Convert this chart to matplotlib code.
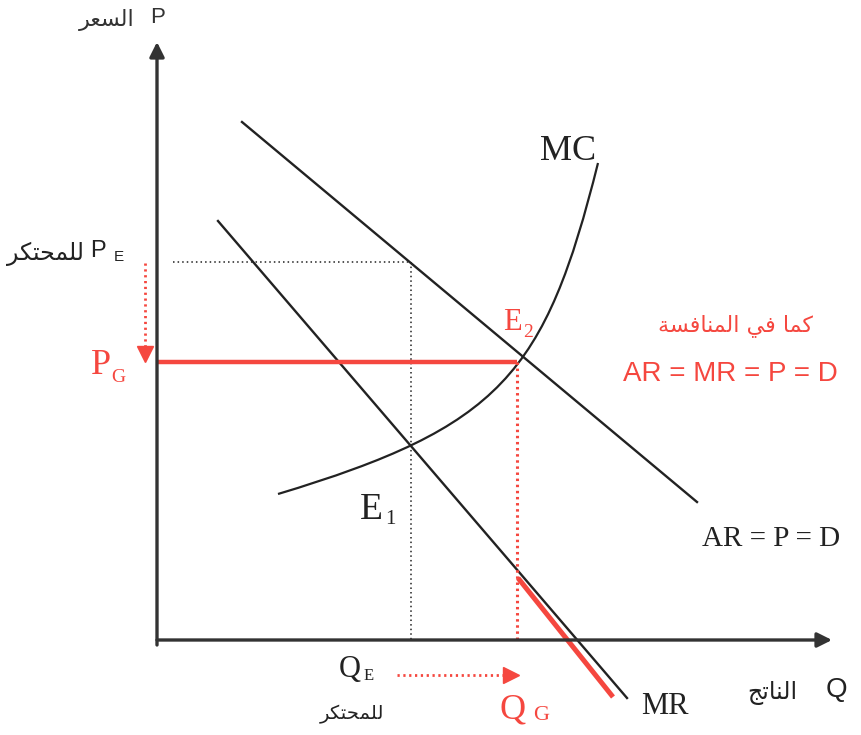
import matplotlib
matplotlib.use("Agg")
import matplotlib.pyplot as plt
from matplotlib.path import Path
from matplotlib.patches import PathPatch

# Output on the horizontal axis, price on the vertical axis
ar_q = [85, 540]
ar_p = [518, 138]
mr_q = [61, 470]
mr_p = [419, -58]
# MC drawn as a cubic Bezier through these control points
mc_q = [121, 343, 388, 441]
mc_p = [146, 213, 265, 477]

q_mono, p_mono = 254, 378       # monopoly output / price (E1)
q_comp, p_comp = 360, 278       # competitive output / price (E2)
mr_red_q = [361, 456]           # highlighted stretch of MR beyond Q_G
mr_red_p = [62, -57]

RED = "#f5473f"
INK = "#222222"
SANS = "Liberation Sans"
SERIF = "Liberation Serif"
ARAB = "DejaVu Sans"

# Arabic presentation forms: isolated, final, initial, medial
FORMS = {
    "ا": ("\uFE8D", "\uFE8E", None, None),
    "ل": ("\uFEDD", "\uFEDE", "\uFEDF", "\uFEE0"),
    "س": ("\uFEB1", "\uFEB2", "\uFEB3", "\uFEB4"),
    "ع": ("\uFEC9", "\uFECA", "\uFECB", "\uFECC"),
    "ر": ("\uFEAD", "\uFEAE", None, None),
    "م": ("\uFEE1", "\uFEE2", "\uFEE3", "\uFEE4"),
    "ح": ("\uFEA1", "\uFEA2", "\uFEA3", "\uFEA4"),
    "ت": ("\uFE95", "\uFE96", "\uFE97", "\uFE98"),
    "ك": ("\uFED9", "\uFEDA", "\uFEDB", "\uFEDC"),
    "ن": ("\uFEE5", "\uFEE6", "\uFEE7", "\uFEE8"),
    "ج": ("\uFE9D", "\uFE9E", "\uFE9F", "\uFEA0"),
    "ف": ("\uFED1", "\uFED2", "\uFED3", "\uFED4"),
    "ي": ("\uFEF1", "\uFEF2", "\uFEF3", "\uFEF4"),
    "ة": ("\uFE93", "\uFE94", None, None),
}


def shape(text):
    """Join Arabic letters and lay them out left to right."""
    out = []
    for i, ch in enumerate(text):
        if ch not in FORMS:
            out.append(ch)
            continue
        prev = text[i - 1] if i > 0 else ""
        nxt = text[i + 1] if i + 1 < len(text) else ""
        join_prev = prev in FORMS and FORMS[prev][2] is not None
        join_next = FORMS[ch][2] is not None and nxt in FORMS
        iso, fin, ini, med = FORMS[ch]
        if join_prev and join_next:
            out.append(med)
        elif join_prev:
            out.append(fin)
        elif join_next:
            out.append(ini)
        else:
            out.append(iso)
    return "".join(reversed(out))


fig = plt.figure(figsize=(8.61, 7.35), dpi=100)
ax = fig.add_axes([0, 0, 1, 1])
ax.set_xlim(-157, 704)
ax.set_ylim(-95, 640)
ax.axis("off")

# axes with arrow heads
ax.annotate("", xy=(0, 598), xytext=(0, -5),
            arrowprops=dict(arrowstyle="-|>", lw=2.4, color="#333333",
                            mutation_scale=22, shrinkA=0, shrinkB=0))
ax.annotate("", xy=(675, 0), xytext=(0, 0),
            arrowprops=dict(arrowstyle="-|>", lw=2.4, color="#333333",
                            mutation_scale=22, shrinkA=0, shrinkB=0))

# demand / marginal revenue / marginal cost
ax.plot(ar_q, ar_p, color=INK, lw=1.7)
ax.plot(mr_q, mr_p, color=INK, lw=1.7)
mc_path = Path(list(zip(mc_q, mc_p)),
               [Path.MOVETO, Path.CURVE4, Path.CURVE4, Path.CURVE4])
ax.add_patch(PathPatch(mc_path, facecolor="none", edgecolor=INK, lw=1.6))

# monopoly guides
ax.plot([16, q_mono], [p_mono, p_mono], color=INK, lw=1.1, ls=(0, (1, 2)))
ax.plot([q_mono, q_mono], [p_mono, 0], color=INK, lw=1.1, ls=(0, (1, 2)))

# competitive outcome
ax.plot([0, q_comp], [p_comp, p_comp], color=RED, lw=3.2, solid_capstyle="butt")
ax.plot([q_comp, q_comp], [p_comp, 0], color=RED, lw=2.2, ls=(0, (0.8, 1.2)))
ax.plot(mr_red_q, mr_red_p, color=RED, lw=3.6, solid_capstyle="butt")

# shift arrows: price falls, output rises
ax.plot([-12, -12], [p_mono - 1, p_comp + 14], color=RED, lw=2.0,
        ls=(0, (0.8, 1.3)))
ax.plot([-12], [p_comp + 8], marker="v", ms=11, color=RED, mec=RED)
ax.plot([240, q_comp - 12], [-35, -35], color=RED, lw=2.0, ls=(0, (0.8, 1.3)))
ax.plot([q_comp - 6], [-35], marker=">", ms=11, color=RED, mec=RED)

# axis titles
ax.text(1, 623, "P", family=SANS, fontsize=16, color="#333333",
        ha="center", va="center")
ax.text(-50, 620, shape("السعر"), family=ARAB, fontsize=16, color="#333333",
        ha="center", va="center")
ax.text(679, -50, "Q", family=SANS, fontsize=20, color=INK,
        ha="center", va="center")
ax.text(615, -53, shape("الناتج"), family=ARAB, fontsize=17, color=INK,
        ha="center", va="center")

# price labels
ax.text(-59, 389, "P", family=SANS, fontsize=17, color=INK,
        ha="center", va="center")
ax.text(-38, 383, "E", family=SANS, fontsize=11, color=INK,
        ha="center", va="center")
ax.text(-112, 386, shape("للمحتكر"), family=ARAB, fontsize=17, color=INK,
        ha="center", va="center")
ax.text(-56, 275, "P", family=SERIF, fontsize=26, color=RED,
        ha="center", va="center")
ax.text(-39, 263, "G", family=SERIF, fontsize=14, color=RED,
        ha="center", va="center")

# quantity labels
ax.text(193, -30, "Q", family=SERIF, fontsize=22, color=INK,
        ha="center", va="center")
ax.text(212, -36, "E", family=SERIF, fontsize=12, color=INK,
        ha="center", va="center")
ax.text(195, -74, shape("للمحتكر"), family=ARAB, fontsize=14, color=INK,
        ha="center", va="center")
ax.text(356, -70, "Q", family=SERIF, fontsize=26, color=RED,
        ha="center", va="center")
ax.text(384, -76, "G", family=SERIF, fontsize=16, color=RED,
        ha="center", va="center")

# curve and point labels
ax.text(411, 488, "MC", family=SERIF, fontsize=26, color=INK,
        ha="center", va="center")
ax.text(614, 101, "AR = P = D", family=SERIF, fontsize=21, color=INK,
        ha="center", va="center")
ax.text(508, -66, "MR", family=SERIF, fontsize=22, color=INK,
        ha="center", va="center")
ax.text(214, 130, "E", family=SERIF, fontsize=27, color=INK,
        ha="center", va="center")
ax.text(233, 120, "1", family=SERIF, fontsize=15, color=INK,
        ha="center", va="center")
ax.text(355, 318, "E", family=SERIF, fontsize=22, color=RED,
        ha="center", va="center")
ax.text(371, 308, "2", family=SERIF, fontsize=14, color=RED,
        ha="center", va="center")

# note: under perfect competition
ax.text(578, 314, shape("كما في المنافسة"), family=ARAB, fontsize=16,
        color=RED, ha="center", va="center")
ax.text(573, 266, "AR = MR = P = D", family=SANS, fontsize=20, color=RED,
        ha="center", va="center")

fig.savefig("out.png", dpi=100)
